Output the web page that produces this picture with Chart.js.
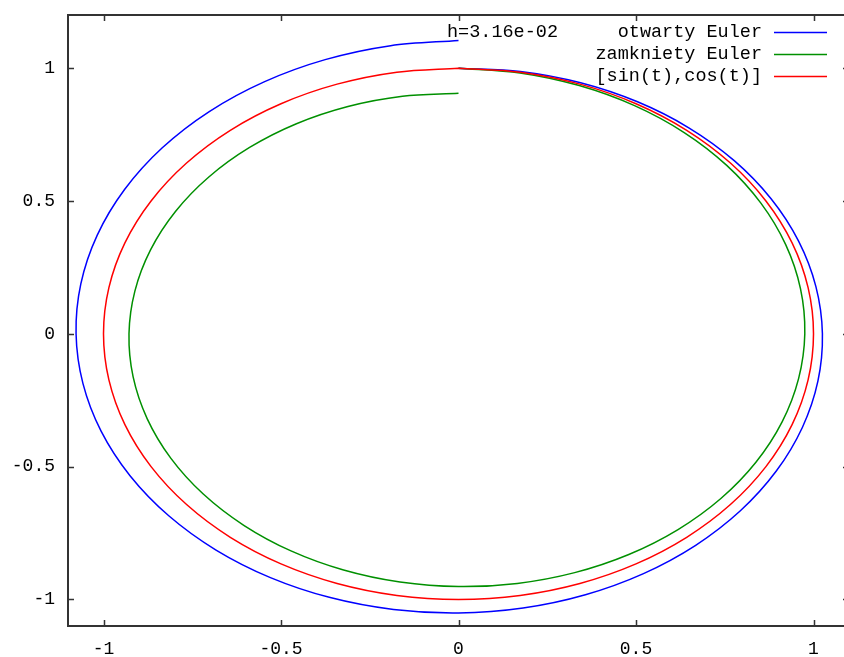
<!DOCTYPE html>
<html>
<head>
<meta charset="utf-8">
<script src="https://cdn.jsdelivr.net/npm/chart.js@4.4.1/dist/chart.umd.min.js"></script>
<style>
  html, body { margin: 0; padding: 0; background: #fff; overflow: hidden; }
  #wrap { width: 850px; height: 657px; }
</style>
</head>
<body>
<div id="wrap"><canvas id="c" width="850" height="657"></canvas></div>
<script>
// ---- data ----
const blueX = [0, 0.1741, 0.3439, 0.5042, 0.6499, 0.7767, 0.8805, 0.9580, 1.0068, 1.0251, 1.0124, 0.9686, 0.8952, 0.7940, 0.6681, 0.5211, 0.3575, 0.1820, 0, -0.1830, -0.3614, -0.5298, -0.6830, -0.8162, -0.9253, -1.0068, -1.0580, -1.0773, -1.0639, -1.0179, -0.9407, -0.8344, -0.7021, -0.5476, -0.3756, -0.1912, 0];
const blueY = [1, 0.9875, 0.9449, 0.8732, 0.7745, 0.6517, 0.5083, 0.3487, 0.1775, 0, -0.1785, -0.3526, -0.5168, -0.6663, -0.7962, -0.9026, -0.9821, -1.0321, -1.0509, -1.0378, -0.9930, -0.9177, -0.8140, -0.6849, -0.5342, -0.3664, -0.1866, 0, 0.1876, 0.3705, 0.5431, 0.7002, 0.8367, 0.9485, 1.0321, 1.0846, 1.1044];

const greenX = [0, 0.1732, 0.3401, 0.4959, 0.6357, 0.7556, 0.8518, 0.9217, 0.9633, 0.9755, 0.9580, 0.9116, 0.8378, 0.7391, 0.6184, 0.4797, 0.3273, 0.1657, 0, -0.1648, -0.3237, -0.4719, -0.6049, -0.7190, -0.8106, -0.8771, -0.9167, -0.9282, -0.9116, -0.8675, -0.7973, -0.7033, -0.5885, -0.4565, -0.3114, -0.1577, 0];
const greenY = [1, 0.9821, 0.9345, 0.8589, 0.7576, 0.6340, 0.4918, 0.3355, 0.1699, 0, -0.1689, -0.3318, -0.4837, -0.6202, -0.7370, -0.8309, -0.8991, -0.9397, -0.9516, -0.9345, -0.8893, -0.8173, -0.7209, -0.6033, -0.4680, -0.3192, -0.1616, 0, 0.1607, 0.3157, 0.4603, 0.5901, 0.7013, 0.7907, 0.8556, 0.8942, 0.9055];

const redX = [0, 0.1736, 0.3420, 0.5, 0.6428, 0.7660, 0.8660, 0.9397, 0.9848, 1, 0.9848, 0.9397, 0.8660, 0.7660, 0.6428, 0.5, 0.3420, 0.1736, 0, -0.1736, -0.3420, -0.5, -0.6428, -0.7660, -0.8660, -0.9397, -0.9848, -1, -0.9848, -0.9397, -0.8660, -0.7660, -0.6428, -0.5, -0.3420, -0.1736, 0];
const redY = [1, 0.9848, 0.9397, 0.8660, 0.7660, 0.6428, 0.5, 0.3420, 0.1736, 0, -0.1736, -0.3420, -0.5, -0.6428, -0.7660, -0.8660, -0.9397, -0.9848, -1, -0.9848, -0.9397, -0.8660, -0.7660, -0.6428, -0.5, -0.3420, -0.1736, 0, 0.1736, 0.3420, 0.5, 0.6428, 0.7660, 0.8660, 0.9397, 0.9848, 1];

const seriesLabels = ['otwarty Euler', 'zamkniety Euler', '[sin(t),cos(t)]'];
const keyTitle = 'h=3.16e-02';
const xTickValues = [-1, -0.5, 0, 0.5, 1];
const xTickLabels = ['-1', '-0.5', '0', '0.5', '1'];
const yTickValues = [-1, -0.5, 0, 0.5, 1];
const yTickLabels = ['-1', '-0.5', '0', '0.5', '1'];

// ---- build ----
const toPts = (xs, ys) => xs.map((x, i) => ({ x: x, y: ys[i] }));
const FONT = 'Liberation Mono';
const colors = ['#0000ff', '#009000', '#ff0000'];

function labelFor(values, labels) {
  return function (v) {
    for (let i = 0; i < values.length; i++) {
      if (Math.abs(values[i] - v) < 1e-9) return labels[i];
    }
    return '';
  };
}

const framePlugin = {
  id: 'frame',
  afterDraw(chart) {
    const ctx = chart.ctx;
    const a = chart.chartArea;
    const xs = chart.scales.x, ys = chart.scales.y;
    ctx.save();
    ctx.strokeStyle = '#333333';
    ctx.lineWidth = 2;
    ctx.strokeRect(a.left, a.top, a.right - a.left, a.bottom - a.top);
    ctx.lineWidth = 1.5;
    const tl = 6;
    ctx.beginPath();
    xTickValues.forEach(v => {
      const px = Math.round(xs.getPixelForValue(v)) + 0.5;
      ctx.moveTo(px, a.bottom); ctx.lineTo(px, a.bottom - tl);
      ctx.moveTo(px, a.top); ctx.lineTo(px, a.top + tl);
    });
    yTickValues.forEach(v => {
      const py = Math.round(ys.getPixelForValue(v)) + 0.5;
      ctx.moveTo(a.left, py); ctx.lineTo(a.left + tl, py);
      ctx.moveTo(a.right, py); ctx.lineTo(a.right - tl, py);
    });
    ctx.stroke();

    // key
    ctx.font = '18.5px "' + FONT + '"';
    ctx.fillStyle = '#000';
    ctx.textBaseline = 'middle';
    ctx.textAlign = 'left';
    const rowY = [32, 54, 76];
    ctx.fillText(keyTitle, 447, rowY[0]);
    ctx.textAlign = 'right';
    chart.data.datasets.forEach((ds, i) => {
      ctx.fillText(ds.label, 762, rowY[i]);
      ctx.strokeStyle = ds.borderColor;
      ctx.lineWidth = 1.5;
      ctx.beginPath();
      ctx.moveTo(774, rowY[i] + 0.5);
      ctx.lineTo(827, rowY[i] + 0.5);
      ctx.stroke();
    });
    ctx.restore();
  }
};

const datasets = [
  { label: seriesLabels[0], data: toPts(blueX, blueY), borderColor: colors[0], order: 2 },
  { label: seriesLabels[1], data: toPts(greenX, greenY), borderColor: colors[1], order: 1 },
  { label: seriesLabels[2], data: toPts(redX, redY), borderColor: colors[2], order: 0 }
].map(d => Object.assign(d, {
  showLine: true, fill: false, pointRadius: 0, borderWidth: 1.5, tension: 0.33
}));

new Chart(document.getElementById('c'), {
  type: 'scatter',
  data: { datasets: datasets },
  options: {
    responsive: false,
    animation: false,
    devicePixelRatio: 1,
    layout: { padding: { top: 15, right: 1, left: 0, bottom: 0 } },
    plugins: { legend: { display: false }, tooltip: { enabled: false } },
    scales: {
      x: {
        type: 'linear', min: -1.1, max: 1.1,
        grid: { display: false, drawTicks: false },
        border: { display: false },
        afterFit(s) { s.height = 31; s.paddingLeft = 0; s.paddingRight = 0; },
        afterBuildTicks(s) { s.ticks = xTickValues.map(v => ({ value: v })); },
        ticks: {
          callback: labelFor(xTickValues, xTickLabels),
          color: '#000', padding: 12, maxRotation: 0,
          font: { family: FONT, size: 18 }
        }
      },
      y: {
        type: 'linear', min: -1.1, max: 1.2,
        grid: { display: false, drawTicks: false },
        border: { display: false },
        afterFit(s) { s.width = 68; s.paddingTop = 0; s.paddingBottom = 0; },
        afterBuildTicks(s) { s.ticks = yTickValues.map(v => ({ value: v })); },
        ticks: {
          callback: labelFor(yTickValues, yTickLabels),
          color: '#000', padding: 13,
          font: { family: FONT, size: 18 }
        }
      }
    }
  },
  plugins: [framePlugin]
});
</script>
</body>
</html>
